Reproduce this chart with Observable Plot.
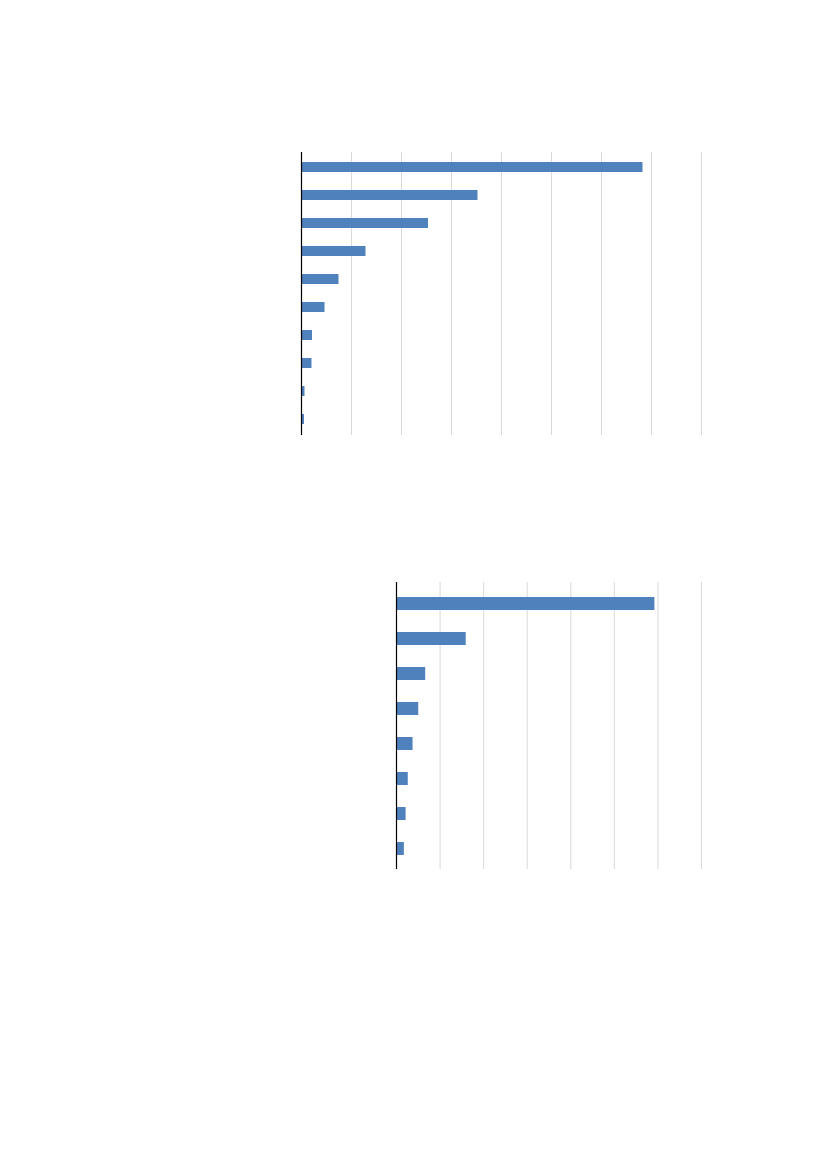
<!DOCTYPE html>
<html>
<head>
<meta charset="utf-8">
<script src="https://cdn.jsdelivr.net/npm/d3@7"></script>
<script src="https://cdn.jsdelivr.net/npm/@observablehq/plot@0.6"></script>
<style>
  html, body { margin: 0; padding: 0; background: #ffffff; }
  body { width: 827px; height: 1169px; position: relative; overflow: hidden; font-family: "Liberation Sans", Arial, sans-serif; }
  .chart { position: absolute; left: 0; }
  #chart1 { top: 140px; }
  #chart2 { top: 570px; }
</style>
</head>
<body>
<div id="chart1" class="chart"></div>
<div id="chart2" class="chart"></div>
<script>
// Chart 1 data (no labels visible in the reference; generic category names)
const categories1 = ["A1", "A2", "A3", "A4", "A5", "A6", "A7", "A8", "A9", "A10"];
const values1 = [6.83, 3.53, 2.54, 1.29, 0.75, 0.47, 0.22, 0.21, 0.07, 0.06];
const gridTicks1 = [0, 1, 2, 3, 4, 5, 6, 7, 8];

// Chart 2 data
const categories2 = ["B1", "B2", "B3", "B4", "B5", "B6", "B7", "B8"];
const values2 = [5.93, 1.60, 0.67, 0.51, 0.38, 0.27, 0.22, 0.18];
const gridTicks2 = [0, 1, 2, 3, 4, 5, 6, 7];

const barColor = "#4f81bd";
const gridColor = "#d9d9d9";

function makeChart(cats, vals, ticks, opts) {
  const data = cats.map((c, i) => ({cat: c, value: vals[i]}));
  return Plot.plot({
    width: 827,
    height: opts.height,
    marginLeft: opts.marginLeft,
    marginRight: opts.marginRight,
    marginTop: 12,
    marginBottom: 12,
    style: {background: "transparent"},
    x: {domain: [0, ticks[ticks.length - 1]], axis: null},
    y: {domain: cats, axis: null, paddingInner: opts.padding, paddingOuter: opts.padding / 2},
    marks: [
      Plot.ruleX(ticks.slice(1), {stroke: gridColor, strokeWidth: 1}),
      Plot.barX(data, {x: "value", y: "cat", fill: barColor}),
      Plot.ruleX([0], {stroke: "#000000", strokeWidth: 1.2})
    ]
  });
}

document.getElementById("chart1").appendChild(
  makeChart(categories1, values1, gridTicks1, {height: 307, marginLeft: 301, marginRight: 126, padding: 0.64})
);
document.getElementById("chart2").appendChild(
  makeChart(categories2, values2, gridTicks2, {height: 311, marginLeft: 396, marginRight: 126, padding: 0.63})
);
</script>
</body>
</html>
